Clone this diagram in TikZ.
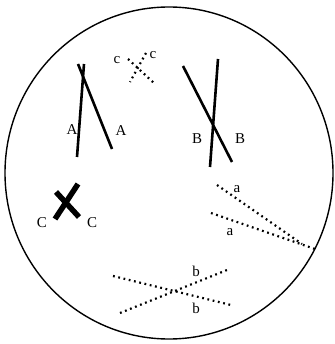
\documentclass[tikz,border=0pt]{standalone}
\usepackage{fontspec}
\setmainfont{Liberation Serif}
\usetikzlibrary{shapes.geometric}
\begin{document}
\begin{tikzpicture}[x=1pt,y=-1pt,
  chrom/.style={line width=2.6pt},
  dotline/.style={line width=2.2pt, dash pattern=on 1.8pt off 3.6pt},
  lbl/.style={font=\fontsize{15}{15}\selectfont, inner sep=0pt}]
\useasboundingbox (0,0) rectangle (334,344);
\node[draw, line width=1.4pt, ellipse, minimum width=328pt, minimum height=332pt, inner sep=0pt] (cell) at (169,173) {};
% pair A
\coordinate (a1t) at (84,64);
\coordinate (a1b) at (77,157);
\coordinate (a2t) at (78,64);
\coordinate (a2b) at (112,149);
\draw[chrom] (a1t) -- (a1b);
\draw[chrom] (a2t) -- (a2b);
\node[lbl] (la1) at (72,130) {A};
\node[lbl] (la2) at (121,131) {A};
% pair B
\coordinate (b1t) at (183,66);
\coordinate (b1b) at (232,162);
\coordinate (b2t) at (218,59);
\coordinate (b2b) at (210,167);
\draw[chrom] (b1t) -- (b1b);
\draw[chrom] (b2t) -- (b2b);
\node[lbl] (lb1) at (197,139) {B};
\node[lbl] (lb2) at (240,139) {B};
% pair c (dotted small)
\coordinate (c1t) at (128,59);
\coordinate (c1b) at (155,84);
\coordinate (c2t) at (146,53);
\coordinate (c2b) at (130,82);
\draw[dotline] (c1t) -- (c1b);
\draw[dotline] (c2t) -- (c2b);
\node[lbl] (lc1) at (117,60) {c};
\node[lbl] (lc2) at (153,55) {c};
% pair C (X)
\coordinate (x1t) at (56,192);
\coordinate (x1b) at (79,217);
\coordinate (x2t) at (78,184);
\coordinate (x2b) at (55,219);
\draw[line width=5.5pt] (x1t) -- (x1b);
\draw[line width=5.5pt] (x2t) -- (x2b);
\node[lbl] (lx1) at (42,223) {C};
\node[lbl] (lx2) at (92,223) {C};
% pair a (dotted)
\coordinate (d1t) at (217,185);
\coordinate (d1b) at (302,244);
\coordinate (d2t) at (211,213);
\coordinate (d2b) at (315,249);
\draw[dotline] (d1t) -- (d1b);
\draw[dotline] (d2t) -- (d2b);
\node[lbl] (ld1) at (237,189) {a};
\node[lbl] (ld2) at (230,232) {a};
% pair b (dotted)
\coordinate (e1t) at (113,276);
\coordinate (e1b) at (231,305);
\coordinate (e2t) at (120,313);
\coordinate (e2b) at (227,270);
\draw[dotline] (e1t) -- (e1b);
\draw[dotline] (e2t) -- (e2b);
\node[lbl] (le1) at (196,271) {b};
\node[lbl] (le2) at (196,308) {b};
\end{tikzpicture}
\end{document}
